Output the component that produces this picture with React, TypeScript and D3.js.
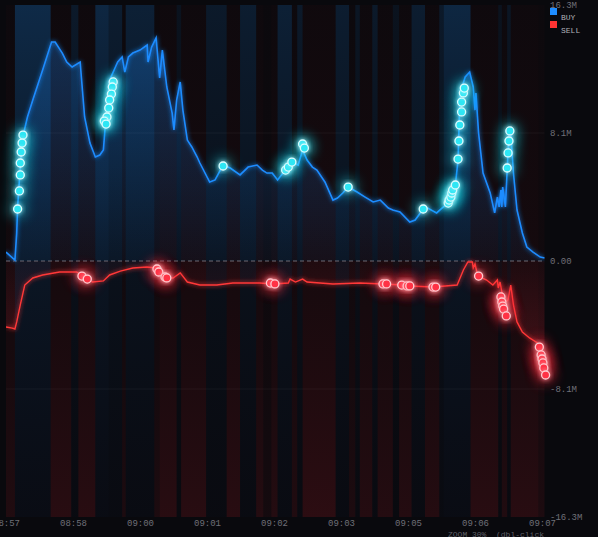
import React, { useEffect, useRef } from 'react';
import * as d3 from 'd3';

const W = 598;
const H = 537;

// x axis: seconds since the first bucket
const tickSeconds = [0, 75, 150, 225, 300, 375, 450, 525, 600];
const timeLabels = ['08:57', '08:58', '09:00', '09:01', '09:02', '09:03', '09:05', '09:06', '09:07'];

// y axis: millions
const yTicks = [16.3, 8.15, 0, -8.15, -16.3];
const yTickLabels = ['16.3M', '8.1M', '0.00', '-8.1M', '-16.3M'];

// cumulative buy flow [seconds, M]
const buyLine: [number, number][] = [
  [0, 0.57], [10, 0.06], [12, 1.78], [13, 3.44], [18, 7.7], [24, 9.17], [30, 10.25], [41, 12.16],
  [51, 13.94], [55, 13.94], [63, 13.24], [68, 12.67], [74, 12.35], [83, 12.67], [88, 9.17], [94, 7.51],
  [100, 6.62], [105, 6.75], [109, 7.07], [111, 8.53], [116, 11.52], [122, 12.29], [125, 12.67], [130, 12.99],
  [133, 12.03], [137, 12.99], [142, 13.24], [150, 13.43], [158, 13.75], [159, 12.67], [163, 13.62], [168, 14.2],
  [172, 11.65], [175, 13.43], [180, 11.08], [186, 9.42], [188, 8.34], [191, 10.25], [195, 11.4], [198, 9.61],
  [203, 7.7], [208, 7.26], [214, 6.62], [217, 6.24], [228, 5.03], [234, 5.16], [243, 6.11], [251, 5.92],
  [262, 5.48], [271, 5.98], [281, 6.11], [287, 5.79], [292, 5.6], [298, 5.6], [304, 5.16], [310, 5.6],
  [320, 6.3], [327, 6.11], [332, 7.07], [337, 6.43], [343, 5.98], [348, 5.79], [357, 5.03], [366, 3.88],
  [371, 4.01], [377, 4.33], [383, 4.71], [393, 4.39], [402, 4.07], [411, 3.76], [419, 3.88], [428, 3.37],
  [433, 3.25], [441, 3.12], [452, 2.48], [458, 2.61], [467, 3.31], [472, 3.37], [482, 3.06], [488, 3.37],
  [495, 3.69], [503, 4.84], [506, 6.43], [508, 10.25], [510, 11.01], [514, 11.72], [519, 12.03], [523, 11.08],
  [525, 9.61], [526, 10.7], [529, 8.15], [534, 5.6], [542, 4.33], [547, 3.06], [550, 4.07], [552, 3.44],
  [554, 4.52], [555, 3.44], [556, 4.71], [559, 3.44], [561, 5.79], [563, 8.15], [565, 8.15], [568, 5.6],
  [572, 3.25], [578, 1.78], [583, 0.89], [590, 0.57], [598, 0.25], [603, 0.19],
];

// cumulative sell flow [seconds, M]
const sellLine: [number, number][] = [
  [0, -4.2], [7, -4.27], [10, -4.33], [12, -3.88], [16, -2.8], [21, -1.53], [30, -1.08], [41, -0.89],
  [60, -0.7], [79, -0.7], [91, -1.15], [97, -1.34], [109, -1.27], [116, -0.89], [128, -0.64], [142, -0.45],
  [158, -0.38], [169, -0.45], [180, -1.08], [187, -1.08], [195, -0.76], [203, -1.34], [217, -1.53], [236, -1.53],
  [254, -1.4], [284, -1.4], [299, -1.46], [316, -1.4], [318, -1.15], [324, -1.34], [332, -1.15], [337, -1.34],
  [366, -1.46], [396, -1.4], [422, -1.46], [444, -1.53], [452, -1.59], [478, -1.66], [505, -1.53], [512, -0.57],
  [517, -0.06], [522, -0.06], [523, -0.45], [525, -0.19], [527, -0.7], [531, -1.02], [538, -1.21], [545, -1.53],
  [550, -1.21], [551, -1.72], [553, -1.34], [555, -1.97], [559, -2.61], [562, -2.48], [565, -1.53], [568, -2.8],
  [572, -3.88], [578, -4.52], [586, -4.9], [595, -5.22], [597, -5.54], [600, -7.07], [603, -7.32],
];

// large trades
const buyTrades: [number, number][] = [
  [19, 8.02], [18, 7.51], [17, 6.94], [16, 6.24], [16, 5.48], [15, 4.46], [13, 3.31],
  [120, 11.4], [119, 11.08], [118, 10.63], [116, 10.25], [115, 9.74], [113, 9.17], [110, 8.91], [112, 8.72],
  [243, 6.05], [313, 5.79], [316, 5.98], [320, 6.3], [332, 7.45], [334, 7.19], [383, 4.71], [467, 3.31],
  [495, 3.69], [496, 3.88], [498, 4.07], [499, 4.33], [500, 4.52], [503, 4.84],
  [506, 6.49], [507, 7.64], [508, 8.66], [510, 9.49], [510, 10.12], [512, 10.7], [513, 11.01],
  [561, 5.92], [562, 6.88], [563, 7.64], [564, 8.28],
];

const sellTrades: [number, number][] = [
  [85, -0.96], [91, -1.15], [169, -0.51], [171, -0.7], [178, -1.02], [180, -1.08],
  [296, -1.4], [301, -1.46], [422, -1.46], [426, -1.46], [443, -1.53], [449, -1.59], [452, -1.59],
  [478, -1.66], [481, -1.66], [529, -0.96],
  [554, -2.29], [555, -2.61], [556, -2.87], [557, -3.06], [560, -3.5],
  [597, -5.48], [599, -5.98], [600, -6.24], [601, -6.49], [602, -6.81], [604, -7.26],
];

// volume buckets: start second, dominant side, intensity
const bandStart = [0, 10, 50, 73, 81, 100, 115, 130, 134, 166, 172, 191, 196, 224, 247, 262, 280, 288, 297, 304,
  320, 326, 332, 369, 384, 391, 396, 410, 416, 433, 440, 454, 469, 485, 490, 520, 551, 555, 561, 565, 596];
const bandSide = ['s', 'b', 's', 'b', 's', 'b', 'b', 's', 'b', 's', 's', 'b', 's', 'b', 's', 'b', 's', 's', 's', 'b',
  's', 'b', 's', 'b', 's', 'b', 's', 'b', 's', 'b', 's', 'b', 's', 'b', 'b', 's', 'b', 's', 'b', 's', 's'];
const bandLevel = [0.6, 1, 0.8, 0.5, 0.8, 0.9, 0.6, 0.5, 0.7, 0.5, 0.8, 0.3, 0.8, 0.5, 0.8, 0.6, 0.7, 0.3, 0.7, 0.7,
  0.6, 0.5, 0.9, 0.6, 0.5, 0.4, 0.7, 0.5, 0.7, 0.3, 0.7, 0.6, 0.7, 0.5, 0.9, 0.8, 0.3, 0.6, 0.4, 0.8, 0.5];
const bandEnd = 603;

const App: React.FC = () => {
  const svgRef = useRef<SVGSVGElement>(null);

  useEffect(() => {
    if (!svgRef.current) return;
    const svg = d3.select(svgRef.current);
    svg.selectAll('*').remove();

    const x = d3.scaleLinear().domain([0, 603]).range([6, 544.7]);
    const y = d3.scaleLinear().domain([-16.3, 16.3]).range([517, 5]);
    const top = y(16.3);
    const bottom = y(-16.3);

    const defs = svg.append('defs');

    const grad = (id: string, stops: [number, string, number][], user?: [number, number]) => {
      const g = defs.append('linearGradient').attr('id', id).attr('x1', 0).attr('x2', 0);
      if (user) {
        g.attr('gradientUnits', 'userSpaceOnUse').attr('y1', user[0]).attr('y2', user[1]);
      } else {
        g.attr('y1', 0).attr('y2', 1);
      }
      stops.forEach(([o, c, op]) => g.append('stop').attr('offset', o).attr('stop-color', c).attr('stop-opacity', op));
    };
    grad('bandBuy', [[0, '#12406e', 0.6], [0.5, '#0e2a48', 0.4], [1, '#0c1830', 0.2]]);
    grad('bandSell', [[0, '#3a0c10', 0.15], [0.5, '#3a0c10', 0.3], [1, '#4a1016', 0.6]]);
    grad('buyArea', [[0, '#1e8cff', 0.32], [1, '#1e8cff', 0.05]], [top, y(0)]);
    grad('sellArea', [[0, '#ff3040', 0.04], [1, '#ff3040', 0.2]], [y(0), y(-8)]);

    const glow = (id: string, std: number) => {
      const f = defs.append('filter').attr('id', id)
        .attr('x', '-50%').attr('y', '-50%').attr('width', '200%').attr('height', '200%');
      f.append('feGaussianBlur').attr('in', 'SourceGraphic').attr('stdDeviation', std).attr('result', 'b');
      const m = f.append('feMerge');
      m.append('feMergeNode').attr('in', 'b');
      m.append('feMergeNode').attr('in', 'SourceGraphic');
    };
    glow('lineGlow', 2);
    glow('dotGlow', 2.5);
    defs.append('filter').attr('id', 'halo').attr('x', '-100%').attr('y', '-100%').attr('width', '300%').attr('height', '300%')
      .append('feGaussianBlur').attr('stdDeviation', 6);

    defs.append('clipPath').attr('id', 'plotClip').append('rect')
      .attr('x', x(0)).attr('y', top).attr('width', x(603) - x(0)).attr('height', bottom - top);

    svg.append('rect').attr('width', W).attr('height', H).attr('fill', '#09090d');

    const plot = svg.append('g').attr('clip-path', 'url(#plotClip)');

    // volume bands
    plot.append('g').selectAll('rect')
      .data(bandStart)
      .join('rect')
      .attr('x', (d) => x(d))
      .attr('width', (d, i) => x(i < bandStart.length - 1 ? bandStart[i + 1] : bandEnd) - x(d))
      .attr('y', top)
      .attr('height', bottom - top)
      .attr('fill', (_, i) => (bandSide[i] === 'b' ? 'url(#bandBuy)' : 'url(#bandSell)'))
      .attr('opacity', (_, i) => bandLevel[i]);

    // grid
    plot.append('g').selectAll('line')
      .data([8.15, -8.15])
      .join('line')
      .attr('x1', x(0)).attr('x2', x(603))
      .attr('y1', (d) => y(d)).attr('y2', (d) => y(d))
      .attr('stroke', '#ffffff').attr('stroke-opacity', 0.05);

    plot.append('line')
      .attr('x1', x(0)).attr('x2', x(603)).attr('y1', y(0)).attr('y2', y(0))
      .attr('stroke', '#6a6a72').attr('stroke-dasharray', '4,3').attr('stroke-width', 1);

    // areas
    const area = d3.area<[number, number]>().x((d) => x(d[0])).y0(y(0)).y1((d) => y(d[1]));
    const line = d3.line<[number, number]>().x((d) => x(d[0])).y((d) => y(d[1]));

    plot.append('path').attr('d', area(buyLine)).attr('fill', 'url(#buyArea)');
    plot.append('path').attr('d', area(sellLine)).attr('fill', 'url(#sellArea)');

    plot.append('path').attr('d', line(buyLine)).attr('fill', 'none')
      .attr('stroke', '#1e8cff').attr('stroke-width', 1.6).attr('filter', 'url(#lineGlow)');
    plot.append('path').attr('d', line(sellLine)).attr('fill', 'none')
      .attr('stroke', '#ff3838').attr('stroke-width', 1.4).attr('filter', 'url(#lineGlow)');

    // trade markers
    const dots = svg.append('g');
    const drawTrades = (data: [number, number][], fill: string, stroke: string, haloColor: string) => {
      dots.append('g').selectAll('circle')
        .data(data)
        .join('circle')
        .attr('cx', (d) => x(d[0])).attr('cy', (d) => y(d[1]))
        .attr('r', 10)
        .attr('fill', haloColor)
        .attr('opacity', 0.38)
        .attr('filter', 'url(#halo)');
      dots.append('g').selectAll('circle')
        .data(data)
        .join('circle')
        .attr('cx', (d) => x(d[0])).attr('cy', (d) => y(d[1]))
        .attr('r', 4)
        .attr('fill', fill)
        .attr('stroke', stroke)
        .attr('stroke-width', 1.3)
        .attr('filter', 'url(#dotGlow)');
    };
    drawTrades(buyTrades, '#2ee6f4', '#dcfdff', '#19e0f0');
    drawTrades(sellTrades, '#ff3344', '#ffccd2', '#ff2a3a');

    // axes
    const font = "'Liberation Mono', 'DejaVu Sans Mono', monospace";
    const xAxis = svg.append('g')
      .attr('transform', `translate(0,${bottom})`)
      .call(d3.axisBottom(x).tickValues(tickSeconds).tickSize(0).tickPadding(3)
        .tickFormat((_, i) => timeLabels[i]));
    xAxis.select('.domain').remove();
    xAxis.selectAll('text').attr('fill', '#707078').attr('font-family', font).attr('font-size', 9);

    svg.append('g').selectAll('text')
      .data(yTicks)
      .join('text')
      .attr('x', 550)
      .attr('y', (d) => y(d))
      .attr('dy', '0.35em')
      .attr('fill', '#707078')
      .attr('font-family', font)
      .attr('font-size', 9)
      .text((_, i) => yTickLabels[i]);

    // legend
    const legend = svg.append('g').attr('font-family', font).attr('font-size', 8).attr('fill', '#b0b0b8');
    legend.append('rect').attr('x', 550).attr('y', 8).attr('width', 7).attr('height', 7).attr('fill', '#1e8cff');
    legend.append('text').attr('x', 561).attr('y', 20).text('BUY');
    legend.append('rect').attr('x', 550).attr('y', 21).attr('width', 7).attr('height', 7).attr('fill', '#ff3333');
    legend.append('text').attr('x', 561).attr('y', 33).text('SELL');

    svg.append('text')
      .attr('x', 448).attr('y', 537)
      .attr('fill', '#5e5e66')
      .attr('font-family', font)
      .attr('font-size', 8)
      .style('white-space', 'pre')
      .text('ZOOM 30%  (dbl-click');
  }, []);

  return (
    <svg
      ref={svgRef}
      width={W}
      height={H}
      style={{ position: 'fixed', left: 0, top: 0, display: 'block' }}
    />
  );
};

export default App;
